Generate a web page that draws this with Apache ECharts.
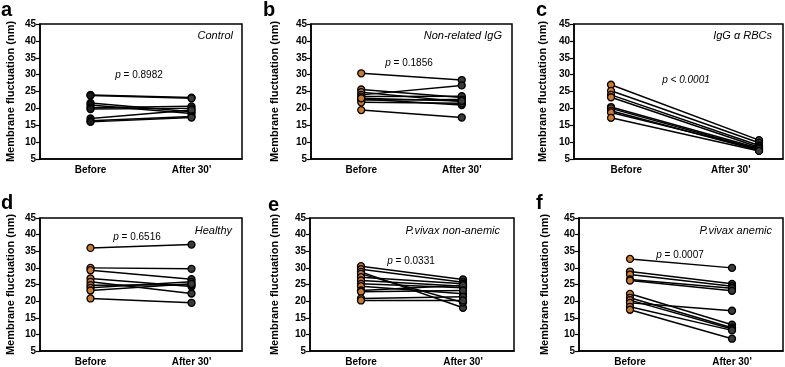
<!DOCTYPE html>
<html><head><meta charset="utf-8">
<script src="https://cdn.jsdelivr.net/npm/echarts@6/dist/echarts.min.js"></script>
<style>html,body{margin:0;padding:0;background:#fff}#c{width:785px;height:367px}</style>
</head><body><div id="c"></div>
<script>
const categories = ['Before', "After 30'"];
const yMin = 5, yMax = 45, yStep = 5;
const yAxisName = 'Membrane fluctuation (nm)';

const panelLetters = ['a', 'b', 'c', 'd', 'e', 'f'];
const panelTitles = ['Control', 'Non-related IgG', 'IgG \u03b1 RBCs', 'Healthy', 'P.vivax non-anemic', 'P.vivax anemic'];
const pValues = ['= 0.8982', '= 0.1856', '< 0.0001', '= 0.6516', '= 0.0331', '= 0.0007'];

const controlBefore = [24.0, 23.8, 21.6, 21.0, 20.2, 19.8, 17.0, 16.3, 16.0];
const controlAfter  = [23.2, 23.0, 19.0, 18.5, 20.6, 20.0, 19.5, 17.6, 17.3];

const nonRelBefore = [30.4, 25.6, 24.8, 24.0, 23.5, 22.8, 22.5, 21.8, 23.0, 19.5];
const nonRelAfter  = [28.4, 23.2, 22.0, 26.8, 23.6, 21.0, 22.6, 21.5, 22.2, 17.3];

const iggBefore = [27.0, 25.2, 24.0, 23.3, 20.4, 20.0, 19.3, 18.8, 17.2];
const iggAfter  = [10.6, 9.8, 9.0, 8.5, 8.2, 7.8, 7.5, 8.0, 7.4];

const healthyBefore = [36.0, 30.0, 29.3, 26.8, 25.8, 24.8, 24.0, 23.2, 20.8];
const healthyAfter  = [37.0, 29.7, 26.6, 24.4, 22.3, 24.9, 25.8, 25.2, 19.5];

const nonAnemicBefore = [30.5, 29.6, 28.8, 28.2, 27.2, 26.2, 25.2, 24.5, 23.2, 22.8, 20.8, 20.2];
const nonAnemicAfter  = [26.5, 25.7, 18.0, 19.6, 25.2, 24.5, 24.0, 22.2, 24.8, 23.2, 21.3, 20.2];

const anemicBefore = [32.7, 28.9, 28.0, 26.5, 26.2, 22.2, 21.0, 20.3, 19.5, 18.3, 17.4];
const anemicAfter  = [30.0, 25.2, 24.5, 23.9, 23.1, 12.9, 12.0, 11.6, 17.1, 11.2, 8.7];

const beforeSets = [controlBefore, nonRelBefore, iggBefore, healthyBefore, nonAnemicBefore, anemicBefore];
const afterSets  = [controlAfter, nonRelAfter, iggAfter, healthyAfter, nonAnemicAfter, anemicAfter];

// layout
const grids = [
  {left: 40, top: 24, width: 202, height: 135},
  {left: 311, top: 24, width: 201, height: 135},
  {left: 574, top: 24, width: 209, height: 135},
  {left: 40, top: 218, width: 202, height: 135},
  {left: 310, top: 218, width: 204, height: 135},
  {left: 579, top: 218, width: 204, height: 135}
];
const posRange = [[-0.5, 1.5], [-0.5, 1.5], [-0.25, 1.162], [-0.5, 1.5], [-0.5, 1.5], [-0.5, 1.5]];
const nameGaps = [24, 31, 26, 24, 30, 29];
const letterPos = [[1, 18], [263, 18], [536, 18], [1, 211], [268, 213], [536, 211]];
const titlePos = [[233, 36], [502, 36], [772, 36], [232, 231], [500, 231], [772, 231]];
const pPos = [[139, 75], [409, 63], [686, 80], [137, 237], [411, 261], [680, 255]];
const beforeColors = ['#1a1a1a', '#cc7a2a', '#cc7a2a', '#cc7a2a', '#cc7a2a', '#cc7a2a'];
const afterColor = '#3a3a3a';

const FONT = "'Liberation Sans', Arial, sans-serif";

const xAxes = [], yAxes = [], series = [], graphics = [];
grids.forEach((g, i) => {
  xAxes.push({
    type: 'category', gridIndex: i, data: categories, boundaryGap: true,
    axisLine: {onZero: false, lineStyle: {color: '#000', width: 1.5}},
    axisTick: {show: false},
    axisLabel: {color: '#000', fontWeight: 'bold', fontSize: 10, fontFamily: FONT, margin: 6}
  });
  xAxes.push({
    type: 'value', gridIndex: i, min: posRange[i][0], max: posRange[i][1], show: false
  });
  yAxes.push({
    type: 'value', gridIndex: i, min: yMin, max: yMax, interval: yStep,
    name: yAxisName, nameLocation: 'middle', nameGap: nameGaps[i],
    nameTextStyle: {color: '#000', fontWeight: 'bold', fontSize: 11, fontFamily: FONT},
    axisLine: {show: true, onZero: false, lineStyle: {color: '#000', width: 1.5}},
    axisTick: {show: true, length: 4, lineStyle: {color: '#000', width: 1.2}},
    splitLine: {show: false},
    axisLabel: {color: '#000', fontWeight: 'bold', fontSize: 10, fontFamily: FONT, margin: 4}
  });
  const b = beforeSets[i], a = afterSets[i];
  for (let k = 0; k < b.length; k++) {
    series.push({
      type: 'line', xAxisIndex: i * 2 + 1, yAxisIndex: i,
      symbol: 'circle', symbolSize: 7, silent: true, animation: false,
      lineStyle: {color: '#000', width: 1.5},
      itemStyle: {borderColor: '#000', borderWidth: 1.3},
      data: [
        {value: [0, b[k]], itemStyle: {color: beforeColors[i], borderColor: '#000'}},
        {value: [1, a[k]], itemStyle: {color: afterColor, borderColor: '#000'}}
      ]
    });
  }
  graphics.push({
    type: 'text', left: letterPos[i][0], top: letterPos[i][1] - 18,
    style: {text: panelLetters[i], fontSize: 20, fontWeight: 'bold', fontFamily: FONT, fill: '#000'}
  });
  graphics.push({
    type: 'text', x: titlePos[i][0], y: titlePos[i][1],
    style: {text: panelTitles[i], fontSize: 11, fontStyle: 'italic', fontFamily: FONT, fill: '#000', align: 'right', verticalAlign: 'middle'}
  });
  const allItalic = i === 2;
  graphics.push({
    type: 'text', x: pPos[i][0], y: pPos[i][1],
    style: {
      text: allItalic ? '{i|p ' + pValues[i] + '}' : '{i|p} ' + pValues[i],
      fontSize: 10, fontFamily: FONT, fill: '#000', align: 'center', verticalAlign: 'middle',
      rich: {i: {fontStyle: 'italic', fontSize: 10, fontFamily: FONT, fill: '#000'}}
    }
  });
});

const option = {
  animation: false,
  backgroundColor: '#fff',
  grid: grids.map(g => Object.assign({show: true, borderColor: '#000', borderWidth: 1.5, containLabel: false}, g)),
  xAxis: xAxes,
  yAxis: yAxes,
  series: series,
  graphic: graphics
};
const chart = echarts.init(document.getElementById('c'), null, {renderer: 'canvas'});
chart.setOption(option);
</script>
</body></html>
